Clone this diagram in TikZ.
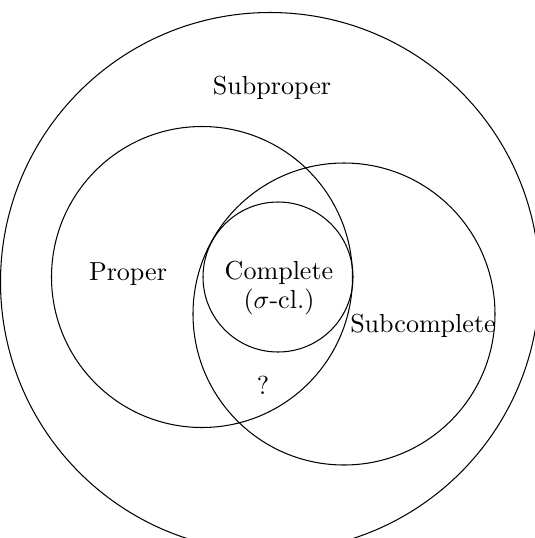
\documentclass[tikz,border=0pt]{standalone}
\usetikzlibrary{calc}

\begin{document}
\begin{tikzpicture}[x=0.01349cm, y=-0.01349cm]
  \useasboundingbox (0, 0) rectangle (535, 538);
  \clip (0, 0) rectangle (535, 538);

  \coordinate (Osp) at (270, 282);
  \coordinate (Op)  at (202, 277);
  \coordinate (Osc) at (344, 314);
  \coordinate (Oc)  at (278, 277);

  % 四个集合
  \draw (Osp) circle (269.5);
  \draw (Op)  circle (150.5);
  \draw (Osc) circle (151);
  \draw (Oc)  circle (75);

  \node (subproper)   at (272, 88)  {Subproper};
  \node (proper)      at (128, 274) {Proper};
  \node (complete)    at (279, 273) {Complete};
  \node (sigmacl)     at (279, 302) {($\sigma$-cl.)};
  \node (subcomplete) at (423, 326) {Subcomplete};
  \node (unknown)     at (263, 385) {?};
\end{tikzpicture}
\end{document}
